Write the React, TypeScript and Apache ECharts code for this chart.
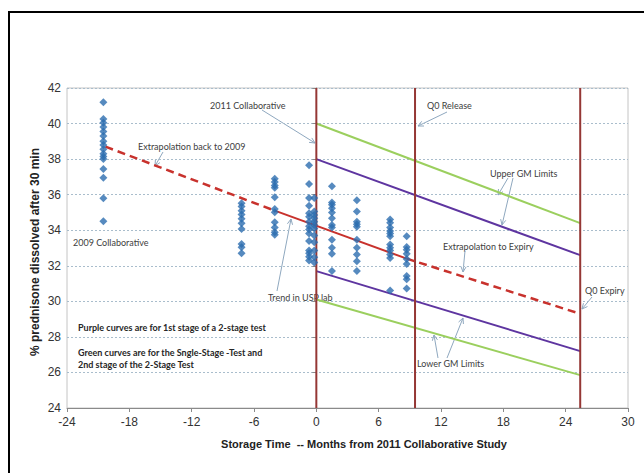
import React, { useEffect, useRef } from "react";
import * as echarts from "echarts";

// ---- data ----
const xTicks = { min: -24, max: 30, interval: 6 };
const yTicks = { min: 24, max: 42, interval: 2 };

const releaseMonth = 9.5;
const expiryMonth = 25.4;

// scatter columns: month and values
const colMonths = [-20.5, -7.2, -4.0, -0.7, -0.2, 1.5, 3.9, 7.1, 8.7];
const colValues: number[][] = [
  [41.2, 40.25, 40.05, 39.8, 39.55, 39.3, 39.0, 38.8, 38.55, 38.3, 38.15, 38.0, 37.45, 36.95, 35.8, 34.5],
  [35.52, 35.33, 35.1, 34.88, 34.64, 34.39, 34.07, 33.23, 33.04, 32.7],
  [36.9, 36.71, 36.52, 36.39, 35.86, 35.2, 35.01, 34.45, 34.16, 33.88, 33.75],
  [37.65, 36.6, 35.81, 35.37, 34.95, 34.76, 34.48, 34.23, 34.04, 33.81, 33.39, 32.86, 32.7, 32.51, 32.29],
  [35.81, 35.05, 34.86, 34.67, 34.48, 34.29, 34.1, 33.71, 33.33, 32.86, 32.48, 32.19],
  [36.48, 35.56, 35.43, 35.24, 34.99, 34.67, 34.29, 34.15, 33.47, 33.01, 32.67, 31.71],
  [35.68, 35.05, 34.48, 34.34, 34.19, 33.47, 33.01, 32.63, 32.25, 31.71],
  [34.61, 34.42, 34.15, 33.96, 33.81, 33.66, 33.2, 33.01, 32.86, 32.63, 32.44, 30.61],
  [33.66, 33.05, 32.9, 32.67, 32.38, 32.1, 31.43, 31.24, 30.72],
];

// limit lines (start at month 0, end at expiry)
const upperGreen = [[0, 40.0], [expiryMonth, 34.4]];
const upperPurple = [[0, 38.0], [expiryMonth, 32.6]];
const lowerPurple = [[0, 31.7], [expiryMonth, 27.2]];
const lowerGreen = [[0, 30.1], [expiryMonth, 25.85]];

// trend
const trendBack = [[-20.3, 38.7], [-4.0, 35.1]];
const trendLab = [[-4.0, 35.1], [8.7, 32.4]];
const trendForward = [[8.7, 32.4], [expiryMonth, 29.3]];

const verticalMonths = [0, releaseMonth, expiryMonth];

const yTitle = "% prednisone dissolved after 30 min";
const xTitle = "Storage Time  -- Months from 2011 Collaborative Study";

const annotations = [
  { t: "2011 Collaborative", x: 210, y: 105 },
  { t: "Extrapolation back to 2009", x: 138, y: 146 },
  { t: "2009 Collaborative", x: 73, y: 242 },
  { t: "Trend in USP lab", x: 268, y: 297 },
  { t: "Q0 Release", x: 427, y: 105 },
  { t: "Upper GM Limits", x: 490, y: 173 },
  { t: "Extrapolation to Expiry", x: 443, y: 246 },
  { t: "Q0 Expiry", x: 585, y: 290 },
  { t: "Lower GM Limits", x: 417, y: 363 },
];
const notes = [
  { t: "Purple curves are for 1st stage of a 2-stage test", x: 78, y: 327 },
  { t: "Green curves are for the Sngle-Stage -Test and", x: 78, y: 352 },
  { t: "2nd stage of the 2-Stage Test", x: 78, y: 364 },
];
const arrowsList = [
  [262, 110, 315, 143],
  [163, 152, 155, 166],
  [277, 291, 291, 219],
  [447, 112, 418, 126],
  [508, 178, 498, 195],
  [513, 178, 502, 225],
  [465, 251, 463, 272],
  [592, 297, 582, 309],
  [438, 358, 434, 335],
  [447, 358, 463, 318],
];

function arrow(x1: number, y1: number, x2: number, y2: number) {
  const a = Math.atan2(y2 - y1, x2 - x1);
  const L = 6;
  const s = 0.45;
  const col = "#8FA8BF";
  return {
    type: "group",
    children: [
      { type: "line", shape: { x1, y1, x2, y2 }, style: { stroke: col, lineWidth: 1 } },
      {
        type: "polyline",
        shape: {
          points: [
            [x2 - L * Math.cos(a - s), y2 - L * Math.sin(a - s)],
            [x2, y2],
            [x2 - L * Math.cos(a + s), y2 - L * Math.sin(a + s)],
          ],
        },
        style: { stroke: col, lineWidth: 1, fill: "none" },
      },
    ],
  };
}

export default function App() {
  const ref = useRef<HTMLDivElement>(null);
  useEffect(() => {
    if (!ref.current) return;
    const chart = echarts.init(ref.current, undefined, { renderer: "svg" });

    const lineSeries = (data: number[][], color: string, width: number, type: any = "solid", z = 2) => ({
      type: "line",
      data,
      showSymbol: false,
      symbol: "none",
      lineStyle: { color, width, type },
      z,
      silent: true,
    });

    const series: any[] = [];
    series.push(lineSeries(upperGreen, "#9BCF5E", 2));
    series.push(lineSeries(lowerGreen, "#9BCF5E", 2));
    series.push(lineSeries(upperPurple, "#5E35A0", 2));
    series.push(lineSeries(lowerPurple, "#5E35A0", 2));
    verticalMonths.forEach((m) => {
      series.push(lineSeries([[m, yTicks.min], [m, yTicks.max]], "#953735", 2, "solid", 3));
    });
    series.push(lineSeries(trendBack, "#C8322D", 2.5, [8, 5], 4));
    series.push(lineSeries(trendLab, "#C8322D", 2, "solid", 4));
    series.push(lineSeries(trendForward, "#C8322D", 2.5, [8, 5], 4));
    const pts: number[][] = [];
    colMonths.forEach((m, i) => colValues[i].forEach((v) => pts.push([m, v])));
    series.push({
      type: "scatter",
      data: pts,
      symbol: "diamond",
      symbolSize: 8,
      itemStyle: { color: "#2C6DAF" },
      z: 5,
    });

    const textStyle = { fontFamily: "Lato", fontSize: 9, fill: "#404040" };
    const graphic: any[] = [
      {
        type: "polyline",
        shape: { points: [[9, 473], [9, 12], [644, 12]] },
        style: { stroke: "#000", lineWidth: 2, fill: "none" },
      },
      {
        type: "text",
        x: 35,
        y: 252,
        rotation: Math.PI / 2,
        style: {
          text: yTitle,
          fontFamily: "Liberation Sans",
          fontWeight: "bold",
          fontSize: 12,
          fill: "#222",
          align: "center",
          verticalAlign: "middle",
        },
      },
      {
        type: "text",
        x: 364,
        y: 444,
        style: {
          text: xTitle,
          fontFamily: "Liberation Sans",
          fontWeight: "bold",
          fontSize: 11,
          fill: "#222",
          align: "center",
          verticalAlign: "middle",
        },
      },
      ...annotations.map((a) => ({
        type: "text",
        x: a.x,
        y: a.y,
        style: { ...textStyle, text: a.t, verticalAlign: "middle" },
      })),
      ...notes.map((a) => ({
        type: "text",
        x: a.x,
        y: a.y,
        style: { ...textStyle, text: a.t, fontWeight: "bold", fill: "#262626", verticalAlign: "middle" },
      })),
      ...arrowsList.map((a) => arrow(a[0], a[1], a[2], a[3])),
    ];

    chart.setOption({
      animation: false,
      backgroundColor: "#fff",
      grid: {
        left: 67,
        right: 16,
        top: 88,
        bottom: 65,
        show: true,
        borderColor: "#C4C4C4",
        borderWidth: 1,
      },
      xAxis: {
        type: "value",
        min: xTicks.min,
        max: xTicks.max,
        interval: xTicks.interval,
        axisLine: { onZero: false, lineStyle: { color: "#8A8A8A", width: 1 } },
        axisTick: { show: true, length: 4, lineStyle: { color: "#8A8A8A" } },
        axisLabel: { fontFamily: "Liberation Sans", fontSize: 12, color: "#333", margin: 8 },
        splitLine: { show: false },
      },
      yAxis: {
        type: "value",
        min: yTicks.min,
        max: yTicks.max,
        interval: yTicks.interval,
        axisLine: { show: true, onZero: true, lineStyle: { color: "#8A8A8A" } },
        axisTick: { show: true, length: 4, lineStyle: { color: "#8A8A8A" } },
        axisLabel: { fontFamily: "Liberation Sans", fontSize: 12, color: "#333", margin: 6 },
        splitLine: { show: true, lineStyle: { color: "#A9BDCC", type: [2, 2], width: 1 } },
      },
      series,
      graphic,
    });
    return () => chart.dispose();
  }, []);
  return (
    <div
      ref={ref}
      style={{ position: "fixed", left: 0, top: 0, width: 644, height: 473 }}
    />
  );
}
